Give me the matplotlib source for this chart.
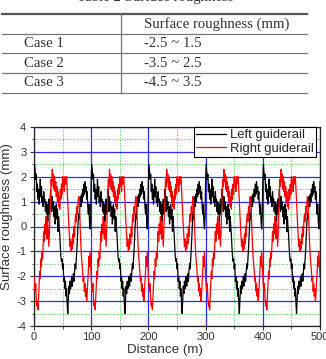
import matplotlib
matplotlib.use("Agg")
import matplotlib.pyplot as plt
from matplotlib.ticker import MultipleLocator
import numpy as np

W, H = 326, 359
DPI = 100

plt.rcParams["axes.unicode_minus"] = False

# ── table data ──────────────────────────────────────────────
TABLE_TITLE = "Table 2 Surface roughness"
TABLE_HEADER = "Surface roughness (mm)"
CASES = ["Case 1", "Case 2", "Case 3"]
RANGES = ["-2.5 ~ 1.5", "-3.5 ~ 2.5", "-4.5 ~ 3.5"]

# ── chart data: one 100 m period of each rail ────────────────────────
PERIOD_M = 100
N_PERIODS = 5
LEFT_PERIOD = [
    1.8, 2.5, 2.2, 1.9, 2.1, 1.4, 1.7, 1.1, 1.5, 0.9,
    1.3, 1.9, 1.2, 1.6, 1.0, 1.2, 0.8, 1.4, 1.0, 1.1,
    0.6, 1.0, 0.5, 0.9, 0.2, 0.7, 1.1, 0.5, 0.9, 1.5,
    1.0, 0.6, 1.2, 0.7, 1.0, 0.4, 0.8, 0.1, 0.6, 0.9,
    0.3, 0.7, -0.2, 0.4, 0.0, -0.3, -0.8, -1.2, -1.4, -1.3,
    -1.7, -1.5, -2.2, -2.0, -2.5, -2.2, -2.8, -2.5, -3.1, -3.5,
    -2.9, -2.4, -2.7, -2.2, -2.5, -2.3, -2.0, -2.4, -2.1, -1.9,
    -2.2, -1.8, -1.5, -1.7, -1.3, -0.9, -0.4, 0.1, 0.5, 0.3,
    0.9, 1.2, 0.8, 1.3, 1.0, 1.5, 1.2, 1.7, 1.3, 1.8,
    1.4, 1.6, 1.1, 1.4, 0.8, 0.5, 0.9, 0.2, -0.1, 0.4,
]
RIGHT_PERIOD = [
    -2.0, -2.4, -2.6, -2.3, -2.9, -3.2, -3.0, -3.35, -2.8, -2.2,
    -1.8, -2.1, -1.3, -1.6, -1.0, -1.3, -0.7, -0.2, -0.6, 0.1,
    -0.3, 0.4, 0.0, -0.5, 0.2, -0.3, -0.8, -0.2, 0.6, 1.3,
    1.9, 1.6, 2.3, 1.8, 2.1, 1.5, 2.0, 1.4, 1.8, 1.2,
    1.6, 1.0, 1.4, 0.8, 1.2, 0.7, 1.5, 1.1, 1.7, 1.3,
    2.0, 1.6, 1.9, 1.4, 2.0, 1.7, 2.0, 2.0, 1.5, 1.0,
    0.5, 0.0, -0.4, -0.8, -0.5, -1.0, -0.6, -0.9, -0.3, -0.7,
    0.0, -0.4, 0.3, 0.5, 0.2, 0.8, 0.5, 1.0, 1.2, 1.0,
    0.6, -0.2, -0.8, -1.2, -1.5, -1.8, -2.2, -2.0, -2.6, -2.3,
    -2.8, -2.5, -3.0, -2.7, -2.2, -1.8, -1.2, -1.6, -1.0, -1.5,
]
SERIES_LABELS = ["Left guiderail", "Right guiderail"]
SERIES_COLORS = ["black", "#ff0000"]

# the rails repeat every 100 m over the 500 m shown
distance = np.arange(PERIOD_M * N_PERIODS + 1)
left = np.append(np.tile(LEFT_PERIOD, N_PERIODS), LEFT_PERIOD[0])
right = np.append(np.tile(RIGHT_PERIOD, N_PERIODS), RIGHT_PERIOD[0])

fig = plt.figure(figsize=(W / DPI, H / DPI), dpi=DPI)

# ── table, drawn in pixel coordinates on a full-figure axes ──────────
tab = fig.add_axes([0, 0, 1, 1])
tab.set_xlim(0, W)
tab.set_ylim(H, 0)
tab.axis("off")

serif = dict(family="Liberation Serif", size=10.6, color="#333333")
tab.text(155, 0.8, TABLE_TITLE, ha="center", va="baseline", **serif)
tab.plot([2, 307], [14, 14], color="#555555", lw=1.6)
for y in [34, 53, 73, 93]:
    tab.plot([2, 307], [y, y], color="#777777", lw=0.9)
tab.plot([121, 121], [14, 93], color="#777777", lw=0.9)
tab.text(144, 24, TABLE_HEADER, ha="left", va="center", **serif)
for i, (case, rng) in enumerate(zip(CASES, RANGES)):
    yc = 43.5 + i * 19.7
    tab.text(24, yc, case, ha="left", va="center", **serif)
    tab.text(144, yc, rng, ha="left", va="center", **serif)

# ── line chart ──────────────────────────────────────────────
ax = fig.add_axes([34 / W, 1 - 326 / H, (320 - 34) / W, (326 - 127) / H])
ax.set_zorder(2)
for y, lab, col in zip([left, right], SERIES_LABELS, SERIES_COLORS):
    ax.plot(distance, y, color=col, lw=0.9, label=lab, zorder=3)

ax.set_xlim(0, 500)
ax.set_ylim(-4, 4)
ax.xaxis.set_major_locator(MultipleLocator(100))
ax.xaxis.set_minor_locator(MultipleLocator(50))
ax.yaxis.set_major_locator(MultipleLocator(1))
ax.yaxis.set_minor_locator(MultipleLocator(0.5))
ax.grid(which="major", color="#2b2bff", lw=0.9, zorder=1)
ax.grid(which="minor", color="#33cc33", lw=0.7, ls=":", zorder=1)
ax.set_axisbelow(True)

for s in ax.spines.values():
    s.set_color("#222222")
    s.set_linewidth(0.9)
ax.tick_params(which="major", direction="out", length=3, width=0.8,
               labelsize=8, labelcolor="#333333", pad=2.5, color="#333333")
ax.tick_params(axis="x", which="major", pad=1.2)
ax.tick_params(which="minor", direction="out", length=1.8, width=0.6,
               color="#333333")
for lbl in ax.get_xticklabels() + ax.get_yticklabels():
    lbl.set_family("Liberation Sans")

sans = dict(family="Liberation Sans", size=9.6, color="#333333")
ax.set_xlabel("Distance (m)", **sans)
ax.set_ylabel("Surface roughness (mm)", **sans)
ax.xaxis.set_label_coords(131 / 286, -0.092)
ax.yaxis.set_label_coords(-21 / 286, 0.55)

leg = ax.legend(loc="upper right", bbox_to_anchor=((316 - 34) / 286, 1.0),
                borderaxespad=0, fancybox=False, framealpha=1, edgecolor="black",
                handlelength=2.3, handletextpad=0.35, labelspacing=0.12,
                borderpad=0.15, prop={"family": "Liberation Sans", "size": 9.4})
leg.get_frame().set_linewidth(0.8)
for t in leg.get_texts():
    t.set_color("#222222")

fig.savefig("out.png", dpi=DPI)
